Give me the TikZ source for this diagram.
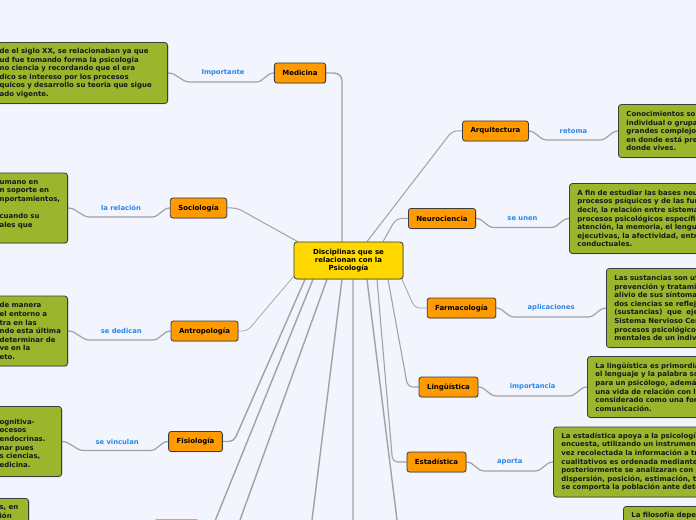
\documentclass[tikz,border=0pt]{standalone}
\usepackage{fontspec}
\setmainfont{DejaVu Sans}
\usetikzlibrary{positioning,calc,shadows,backgrounds}

\definecolor{bgblue}{HTML}{F2F5FE}
\definecolor{leafgreen}{HTML}{9BB52C}
\definecolor{topicorange}{HTML}{FF9A00}
\definecolor{rootyellow}{HTML}{FFD800}
\definecolor{edgegray}{HTML}{3C3C3C}
\definecolor{wiregray}{HTML}{A2A2A2}
\definecolor{labelblue}{HTML}{2A86E6}

\tikzset{
  root/.style={draw=edgegray, fill=rootyellow, line width=0.8bp, rounded corners=3bp,
    minimum width=109bp, minimum height=37bp, align=center,
    font=\fontsize{7}{8.4}\selectfont\bfseries,
    drop shadow={shadow xshift=0.8bp, shadow yshift=-0.8bp, opacity=0.3}},
  topic/.style={draw=edgegray, fill=topicorange, line width=0.8bp, rounded corners=2.5bp,
    minimum height=20bp, inner xsep=8bp, font=\fontsize{7}{8.4}\selectfont\bfseries,
    drop shadow={shadow xshift=0.8bp, shadow yshift=-0.8bp, opacity=0.3}},
  note/.style={draw=edgegray, fill=leafgreen, line width=0.8bp, rounded corners=3bp,
    inner xsep=8bp, align=left, text=black!90, font=\fontsize{7}{8.6}\selectfont\bfseries,
    drop shadow={shadow xshift=0.8bp, shadow yshift=-0.8bp, opacity=0.3}},
  branch/.style={draw=wiregray, line width=1.4bp, rounded corners=5bp},
  link/.style={draw=wiregray, line width=1.2bp},
  verb/.style={text=labelblue, inner sep=1bp, font=\fontsize{6.8}{8.4}\selectfont\bfseries}
}

\begin{document}
\begin{tikzpicture}[x=1bp,y=-1bp]
  \useasboundingbox (0,0) rectangle (696,520);

  % Root
  \node[root] (ctr) at (348.5,260.5) {Disciplinas que se\\relacionan con la\\Psicología};

  % Topics
  \node[topic] (med) at (300,73) {Medicina};
  \node[topic] (soc) at (198.5,208) {Sociología};
  \node[topic] (ant) at (204.5,331) {Antropología};
  \node[topic] (fis) at (195.5,441.5) {Fisiología};
  \node[topic, anchor=north, minimum width=45bp] (bot) at (176.5,519.5) {};
  \node[topic] (arq) at (495.5,131) {Arquitectura};
  \node[topic] (neu) at (442,218.5) {Neurociencia};
  \node[topic] (far) at (461.5,308) {Farmacología};
  \node[topic] (lin) at (448.5,387) {Lingüística};
  \node[topic] (est) at (436.5,462) {Estadística};

  % Notes, left side
  \node[note, anchor=east, text width=160bp, minimum height=61bp] (medbox) at (168,73)
    {de el siglo XX, se relacionaban ya que\\ud fue tomando forma la psicologia\\no ciencia y recordando que el era\\dico se intereso por los procesos\\quicos y desarrollo su teoria que sigue\\ado vigente.};
  \node[note, anchor=east, text width=60bp, minimum height=70bp] (socbox) at (68,208)
    {umano en\\n soporte en\\nportamientos,\\~\\cuando su\\ales que\\~};
  \node[note, anchor=east, text width=60bp, minimum height=70bp] (antbox) at (68,331)
    {de manera\\el entorno a\\tra en las\\\mbox{ndo esta última}\\\mbox{determinar de}\\ve en la\\eto.};
  \node[note, anchor=east, text width=54bp, minimum height=70bp] (fisbox) at (62,441.5)
    {~\\ognitiva-\\ocesos\\endocrinas.\\nar pues\\s ciencias,\\edicina.};
  \node[note, anchor=north east, text width=21bp, inner ysep=7.5bp] (lowbox) at (29,498)
    {\mbox{s, en}\\ión\\~\\~};

  % Notes, right side
  \node[note, anchor=west, text width=200bp, minimum height=53bp] (arqbox) at (618,131)
    {Conocimientos so\\individual o grupa\\grandes complejos\\en donde está pre\\donde vives.};
  \node[note, anchor=west, text width=200bp, minimum height=70bp] (neubox) at (569,218.5)
    {A fin de estudiar las bases neu\\procesos psíquicos y de las fun\\decir, la relación entre sistema\\procesos psicológicos específic\\atención, la memoria, el lengu\\ejecutivas, la afectividad, entr\\conductuales.};
  \node[note, anchor=west, text width=200bp, minimum height=79bp] (farbox) at (606,308)
    {Las sustancias son ut\\prevención y tratami\\alivio de sus síntoma\\dos ciencias se reflej\\(sustancias) \ que \ eje\\Sistema Nervioso Cen\\procesos psicológicos\\mentales de un indiv};
  \node[note, anchor=west, text width=200bp, minimum height=61bp] (linbox) at (587,387)
    {La lingüística es primordia\\el lenguaje y la palabra so\\para un psicólogo, además\\una vida de relación con l\\considerado como una for\\comunicación.};
  \node[note, anchor=west, text width=200bp, minimum height=70bp] (estbox) at (553,462)
    {La estadística apoya a la psicologí\\encuesta, utilizando un instrumen\\vez recolectada la información a tr\\cualitativos es ordenada mediante\\posteriormente se analizaran con\\dispersión, posición, estimación, t\\se comporta la población ante dete};
  \node[note, anchor=north west, text width=200bp, inner ysep=6bp] (filbox) at (623,506)
    {La filosofía depe\\~\\~\\~};

  % Ends below the page
  \coordinate (down1) at (232.8,540);
  \coordinate (down2) at (309.5,540);
  \coordinate (down3) at (353,540);
  \coordinate (down4) at (399.5,540);

  \begin{scope}[on background layer]
    \fill[bgblue] (0,0) rectangle (696,520);

    % Branches from the root
    \draw[branch, rounded corners=8bp] ($(ctr.north)+(-6.5,0)$) |- (med.east);
    \draw[branch, line width=1bp] ($(ctr.north west)+(4,0)$) -- ($(soc.east)+(10,0)$) -- (soc.east);
    \draw[branch, line width=1bp] ($(ctr.north)+(18.5,0)$) -- ($(arq.west)+(-10,0)$) -- (arq.west);
    \draw[branch, line width=1bp] ($(ctr.north)+(34.5,0)$) -- ($(neu.west)+(-12,0)$) -- (neu.west);
    \draw[branch, line width=0.8bp] ($(ctr.south east)+(-1.5,0)$) -- ($(far.west)+(-12,0)$) -- (far.west);
    \draw[branch, line width=1.1bp] ($(ctr.south)+(39.5,0)$) -- ($(lin.west)+(-11,0)$) -- (lin.west);
    \draw[branch, line width=1.1bp] ($(ctr.south)+(28.5,0)$) -- ($(est.west)+(-14,0)$) -- (est.west);
    \draw[branch, line width=0.7bp] ($(ctr.south west)+(0,-3)$) -- ($(ant.east)+(9,0)$) -- (ant.east);
    \draw[branch] ($(ctr.south)+(-43.5,0)$) -- ($(fis.east)+(11,0)$) -- (fis.east);
    \draw[branch] ($(ctr.south)+(-35.5,0)$) -- ($(bot.east)+(12,0)$) -- (bot.east);
    \draw[branch] ($(ctr.south)+(-21.5,0)$) -- (down1);
    \draw[branch] ($(ctr.south)+(-6.5,0)$) -- (down2);
    \draw[branch] ($(ctr.south)+(4.5,0)$) -- (down3);
    \draw[branch] ($(ctr.south)+(18.5,0)$) -- (down4);

    % Links to the notes
    \draw[link] (med.west) to[out=180,in=0] ++(-18,9) -- node[verb, yshift=9bp] {Importante} ($(medbox.east)+(22,9)$) to[out=180,in=0] (medbox.east);
    \draw[link] (soc.west) to[out=180,in=0] ++(-18,9) -- node[verb, yshift=9bp] {la relación} ($(socbox.east)+(22,9)$) to[out=180,in=0] (socbox.east);
    \draw[link] (ant.west) to[out=180,in=0] ++(-18,9) -- node[verb, yshift=9bp] {se dedican} ($(antbox.east)+(22,9)$) to[out=180,in=0] (antbox.east);
    \draw[link] (fis.west) to[out=180,in=0] ++(-18,9) -- node[verb, yshift=9bp] {se vinculan} ($(fisbox.east)+(22,9)$) to[out=180,in=0] (fisbox.east);
    \draw[link] (arq.east) to[out=0,in=180] ++(18,9) -- node[verb, yshift=9bp] {retoma} ($(arqbox.west)+(-18,9)$) to[out=0,in=180] (arqbox.west);
    \draw[link] (neu.east) to[out=0,in=180] ++(18,9) -- node[verb, yshift=9bp] {se unen} ($(neubox.west)+(-18,9)$) to[out=0,in=180] (neubox.west);
    \draw[link] (far.east) to[out=0,in=180] ++(18,9) -- node[verb, yshift=9bp] {aplicaciones} ($(farbox.west)+(-18,9)$) to[out=0,in=180] (farbox.west);
    \draw[link] (lin.east) to[out=0,in=180] ++(18,9) -- node[verb, yshift=9bp] {importancia} ($(linbox.west)+(-18,9)$) to[out=0,in=180] (linbox.west);
    \draw[link] (est.east) to[out=0,in=180] ++(18,9) -- node[verb, yshift=9bp] {aporta} ($(estbox.west)+(-18,9)$) to[out=0,in=180] (estbox.west);
  \end{scope}
\end{tikzpicture}
\end{document}
